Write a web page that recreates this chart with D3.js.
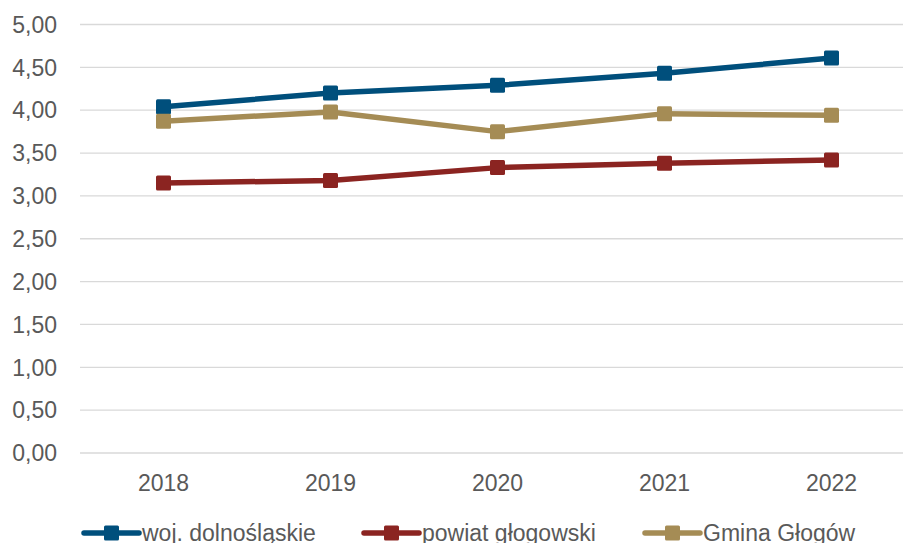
<!DOCTYPE html>
<html><head><meta charset="utf-8">
<script src="https://cdn.jsdelivr.net/npm/d3@7"></script>
<style>body{margin:0;background:#fff}svg{display:block;font-family:"Liberation Sans",Arial,sans-serif}</style>
</head><body><svg id="c" width="903" height="543"></svg>
<script>
const years = ["2018","2019","2020","2021","2022"];
const yTicks = [0,0.5,1,1.5,2,2.5,3,3.5,4,4.5,5];
const seriesNames = ["woj. dolnośląskie","powiat głogowski","Gmina Głogów"];
const seriesColors = ["#004f7c","#8b2421","#a58c55"];
const wojValues = [4.04,4.20,4.29,4.43,4.61];
const powiatValues = [3.15,3.18,3.33,3.38,3.42];
const gminaValues = [3.87,3.98,3.75,3.96,3.94];
const allValues = [wojValues, powiatValues, gminaValues];

(function(){
const svg = d3.select("#c");
const mLeft = 80, mRight = 915, mTop = 24.5, mBottom = 453;
const fs = 23;
const x = d3.scaleBand().domain(years).range([mLeft, mRight]);
const y = d3.scaleLinear().domain([0,5]).range([mBottom, mTop]);
const fmt = v => d3.format(".2f")(v).replace(".", ",");

svg.append("g").selectAll("line").data(yTicks).join("line")
  .attr("x1", mLeft).attr("x2", 903).attr("y1", d=>y(d)).attr("y2", d=>y(d))
  .attr("stroke", "#d9d9d9").attr("stroke-width", 1.3);
svg.append("g").selectAll("text").data(yTicks).join("text")
  .attr("x", 57).attr("y", d=>y(d)).attr("dy","0.36em").attr("text-anchor","end")
  .attr("font-size", fs).attr("fill","#595959").text(fmt);
svg.append("g").selectAll("text").data(years).join("text")
  .attr("x", d=>x(d)+x.bandwidth()/2).attr("y", 491).attr("text-anchor","middle")
  .attr("font-size", fs).attr("fill","#595959").text(d=>d);

const line = d3.line().x((d,i)=>x(years[i])+x.bandwidth()/2).y(d=>y(d));
allValues.forEach((vals, si) => {
  const g = svg.append("g");
  g.append("path").attr("d", line(vals)).attr("fill","none")
    .attr("stroke", seriesColors[si]).attr("stroke-width", 5.5).attr("stroke-linejoin","round");
  g.selectAll("rect").data(vals).join("rect")
    .attr("x",(d,i)=>x(years[i])+x.bandwidth()/2-7.5).attr("y",d=>y(d)-7.5)
    .attr("width",15).attr("height",15).attr("rx",1.5).attr("fill",seriesColors[si]);
});

const legendX = [84, 364, 645];
const lg = svg.append("g");
seriesNames.forEach((n, i) => {
  const lx = legendX[i], ly = 533;
  lg.append("line").attr("x1", lx).attr("x2", lx+55).attr("y1", ly).attr("y2", ly)
    .attr("stroke", seriesColors[i]).attr("stroke-width", 5.5).attr("stroke-linecap","round");
  lg.append("rect").attr("x", lx+27.5-7.5).attr("y", ly-7.5).attr("width",15).attr("height",15)
    .attr("rx",1.5).attr("fill", seriesColors[i]);
  lg.append("text").attr("x", lx+58).attr("y", ly).attr("dy","0.36em")
    .attr("font-size", fs).attr("fill","#595959").text(n);
});
})();
</script></body></html>
